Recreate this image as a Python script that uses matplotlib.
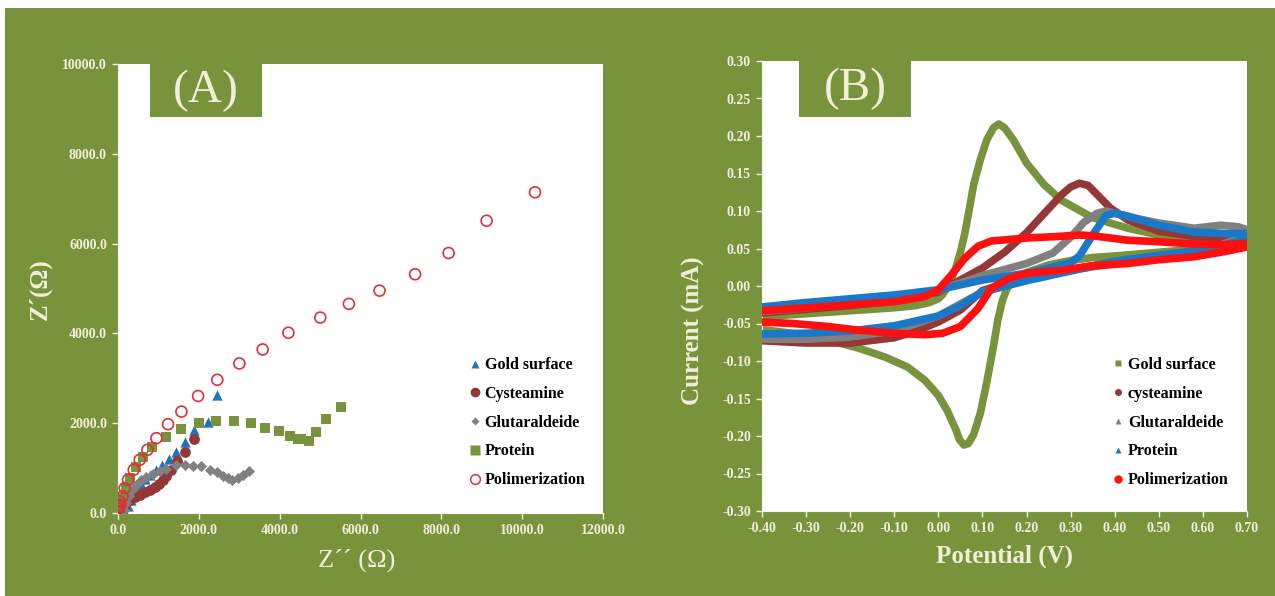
import matplotlib
matplotlib.use("Agg")
import matplotlib.pyplot as plt
from matplotlib.patches import Rectangle
from matplotlib.lines import Line2D
from matplotlib.ticker import FormatStrFormatter, MultipleLocator

# ---- (A) Nyquist data: Z'' (x) vs Z' (y), ohm ----
gold_zr = [2450, 2228, 1874, 1651, 1445, 1263, 1090, 933, 785, 661, 579, 495, 413, 332, 248, 166]
gold_zi = [2629, 2036, 1851, 1591, 1369, 1200, 1073, 962, 851, 755, 651, 555, 444, 296, 148, 5]

cyst_zr = [1881, 1651, 1470, 1321, 1197, 1114, 1015, 908, 785, 661, 537, 413, 306, 207, 141, 83]
cyst_zi = [1644, 1369, 1147, 962, 829, 740, 651, 577, 518, 458, 407, 355, 296, 222, 111, 29]

glut_zr = [3234, 3094, 2970, 2830, 2723, 2599, 2450, 2269, 2063, 1856, 1650, 1444,
           1197, 1032, 866, 703, 579, 455, 356, 272, 207, 141]
glut_zi = [926, 852, 778, 741, 778, 830, 904, 963, 1037, 1052, 1074, 1074,
           977, 925, 873, 800, 725, 629, 518, 384, 222, 58]

prot_zr = [5528, 5156, 4892, 4727, 4538, 4455, 4249, 3977, 3630, 3300, 2871, 2434, 1997,
           1552, 1181, 851, 619, 438, 306, 207, 124, 67]
prot_zi = [2356, 2090, 1793, 1593, 1645, 1645, 1719, 1830, 1904, 2000, 2038, 2053, 2000,
           1866, 1688, 1480, 1258, 1022, 777, 555, 333, 148]

poly_zr = [10318, 9120, 8180, 7351, 6471, 5713, 5005, 4216, 3579, 3003, 2457, 1982, 1569,
           1238, 950, 727, 537, 389, 248, 166, 109, 59, 25, 12, 5, 40, 20]
poly_zi = [7143, 6509, 5790, 5317, 4953, 4658, 4353, 4015, 3643, 3330, 2967, 2606, 2258,
           1977, 1666, 1407, 1184, 962, 740, 555, 369, 184, 36, 90, 15, 260, 150]

# ---- (B) cyclic voltammograms: potential (V) vs current (mA) ----
gold_up_v = [-0.40, -0.30, -0.20, -0.10, -0.05, -0.02, 0.00, 0.01, 0.02, 0.03, 0.04, 0.05, 0.06,
             0.07, 0.08, 0.095, 0.11, 0.125, 0.137, 0.15, 0.17, 0.20, 0.24, 0.28, 0.35, 0.43,
             0.50, 0.58, 0.65, 0.70]
gold_up_i = [-0.041, -0.037, -0.033, -0.029, -0.026, -0.022, -0.017, -0.011, -0.002, 0.010,
             0.025, 0.045, 0.070, 0.102, 0.135, 0.168, 0.195, 0.211, 0.216, 0.211, 0.195,
             0.164, 0.135, 0.114, 0.091, 0.077, 0.068, 0.062, 0.059, 0.060]
gold_dn_v = [0.70, 0.60, 0.50, 0.40, 0.35, 0.30, 0.25, 0.20, 0.17, 0.155, 0.145, 0.135, 0.125,
             0.11, 0.095, 0.08, 0.068, 0.058, 0.048, 0.04, 0.02, 0.00, -0.03, -0.07, -0.12,
             -0.18, -0.25, -0.32, -0.40]
gold_dn_i = [0.058, 0.050, 0.045, 0.040, 0.038, 0.034, 0.028, 0.018, 0.008, -0.004, -0.020,
             -0.045, -0.080, -0.128, -0.170, -0.198, -0.210, -0.212, -0.205, -0.192, -0.166,
             -0.146, -0.126, -0.108, -0.095, -0.083, -0.072, -0.064, -0.058]

cyst_up_v = [-0.40, -0.30, -0.20, -0.10, 0.00, 0.05, 0.10, 0.15, 0.20, 0.25, 0.28, 0.30, 0.32,
             0.34, 0.36, 0.39, 0.43, 0.50, 0.58, 0.65, 0.70]
cyst_up_i = [-0.036, -0.031, -0.026, -0.020, -0.008, 0.008, 0.024, 0.045, 0.071, 0.103, 0.122,
             0.132, 0.137, 0.134, 0.122, 0.104, 0.088, 0.073, 0.066, 0.063, 0.065]
cyst_dn_v = [0.70, 0.60, 0.50, 0.40, 0.30, 0.20, 0.10, 0.05, 0.00, -0.05, -0.10, -0.20, -0.30, -0.40]
cyst_dn_i = [0.062, 0.048, 0.040, 0.032, 0.022, 0.012, -0.006, -0.032, -0.048, -0.060, -0.069,
             -0.076, -0.076, -0.073]

glut_up_v = [-0.40, -0.30, -0.20, -0.10, 0.00, 0.10, 0.20, 0.26, 0.30, 0.33, 0.36, 0.38, 0.40,
             0.45, 0.50, 0.58, 0.64, 0.68, 0.70]
glut_up_i = [-0.034, -0.029, -0.024, -0.018, -0.006, 0.014, 0.030, 0.044, 0.065, 0.085, 0.097,
             0.100, 0.097, 0.090, 0.084, 0.077, 0.081, 0.079, 0.075]
glut_dn_v = [0.70, 0.60, 0.50, 0.40, 0.30, 0.20, 0.10, 0.05, 0.00, -0.10, -0.20, -0.30, -0.40]
glut_dn_i = [0.068, 0.046, 0.038, 0.030, 0.021, 0.009, -0.008, -0.024, -0.040, -0.060, -0.068,
             -0.071, -0.071]

prot_up_v = [-0.40, -0.30, -0.20, -0.10, 0.00, 0.10, 0.20, 0.30, 0.32, 0.35, 0.38, 0.40, 0.43,
             0.50, 0.58, 0.65, 0.70]
prot_up_i = [-0.028, -0.022, -0.017, -0.012, -0.005, 0.008, 0.017, 0.031, 0.040, 0.068, 0.094,
             0.097, 0.093, 0.081, 0.072, 0.070, 0.070]
prot_dn_v = [0.70, 0.60, 0.50, 0.40, 0.30, 0.20, 0.10, 0.05, 0.00, -0.10, -0.20, -0.30, -0.40]
prot_dn_i = [0.062, 0.048, 0.041, 0.033, 0.020, 0.007, -0.008, -0.026, -0.040, -0.053, -0.060,
             -0.063, -0.064]

poly_up_v = [-0.40, -0.30, -0.20, -0.10, -0.03, 0.00, 0.03, 0.06, 0.09, 0.12, 0.20, 0.27, 0.32,
             0.35, 0.43, 0.50, 0.58, 0.65, 0.70]
poly_up_i = [-0.033, -0.029, -0.025, -0.021, -0.014, -0.005, 0.015, 0.037, 0.053, 0.060, 0.064,
             0.066, 0.068, 0.067, 0.061, 0.059, 0.056, 0.055, 0.057]
poly_dn_v = [0.70, 0.65, 0.58, 0.50, 0.43, 0.35, 0.28, 0.20, 0.16, 0.12, 0.09, 0.05, 0.01, -0.03,
             -0.10, -0.18, -0.25, -0.33, -0.40]
poly_dn_i = [0.052, 0.046, 0.039, 0.035, 0.030, 0.027, 0.021, 0.017, 0.010, -0.003, -0.030,
             -0.054, -0.063, -0.065, -0.063, -0.059, -0.054, -0.050, -0.048]

olive = "#77933c"
cream = "#f0efd8"
c_gold_a = "#1f72c0"
c_cyst = "#953735"
c_glut = "#808080"
c_prot = "#77933c"
c_poly = "#e0303a"
c_blue_b = "#1a78c8"
c_red_b = "#ff1010"

plt.rcParams["font.family"] = ["Liberation Serif", "DejaVu Serif"]

fig = plt.figure(figsize=(12.75, 5.96), dpi=100)
fig.patches.append(Rectangle((5 / 1275, 0), 1, 588 / 596, transform=fig.transFigure,
                             facecolor=olive, edgecolor="none", zorder=-10))


def style_axes(ax):
    ax.set_facecolor("white")
    for side in ("top", "right"):
        ax.spines[side].set_visible(False)
    for side in ("left", "bottom"):
        ax.spines[side].set_color("#f4f4f4")
    ax.tick_params(direction="out", length=4, width=1, color=cream, labelcolor=cream,
                   labelsize=10, pad=4)
    for lab in ax.get_xticklabels() + ax.get_yticklabels():
        lab.set_fontweight("bold")


def label_box(ax, x0, x1, h, text):
    ax.add_patch(Rectangle((x0, 1 - h), x1 - x0, h + 0.01, transform=ax.transAxes,
                           facecolor=olive, edgecolor="none", zorder=5, clip_on=False))
    ax.text((x0 + x1) / 2, 1 - h / 2, text, transform=ax.transAxes, ha="center", va="center",
            color=cream, fontsize=34, zorder=6)


# ---------------- (A) ----------------
axA = fig.add_axes([118 / 1275, 83 / 596, 485 / 1275, 449 / 596])
axA.scatter(gold_zr, gold_zi, marker="^", s=55, color=c_gold_a, lw=0, zorder=3)
axA.scatter(cyst_zr, cyst_zi, marker="o", s=60, color=c_cyst, lw=0, zorder=3)
axA.scatter(glut_zr, glut_zi, marker="D", s=32, color=c_glut, lw=0, zorder=3)
axA.scatter(prot_zr, prot_zi, marker="s", s=55, color=c_prot, lw=0, zorder=3)
axA.scatter(poly_zr, poly_zi, marker="o", s=62, facecolor="none", edgecolor=c_poly, lw=1.2,
            zorder=4)
axA.set_xlim(0, 12000)
axA.set_ylim(0, 10000)
axA.xaxis.set_major_locator(MultipleLocator(2000))
axA.yaxis.set_major_locator(MultipleLocator(2000))
axA.xaxis.set_major_formatter(FormatStrFormatter("%.1f"))
axA.yaxis.set_major_formatter(FormatStrFormatter("%.1f"))
style_axes(axA)
label_box(axA, 0.066, 0.297, 0.118, "(A)")

hA = [
    Line2D([], [], ls="none", marker="^", ms=6, color=c_gold_a, mec="none"),
    Line2D([], [], ls="none", marker="o", ms=7, color=c_cyst, mec="none"),
    Line2D([], [], ls="none", marker="D", ms=4.5, color=c_glut, mec="none"),
    Line2D([], [], ls="none", marker="s", ms=6.5, color=c_prot, mec="none"),
    Line2D([], [], ls="none", marker="o", ms=7, mfc="none", mec=c_poly, mew=1.1),
]
labA = ["Gold surface", "Cysteamine", "Glutaraldeide", "Protein", "Polimerization"]
axA.legend(hA, labA, loc="upper left", bbox_to_anchor=(0.71, 0.365), frameon=False,
           handlelength=0.6, handletextpad=0.3, labelspacing=0.8, borderpad=0,
           prop={"family": "Liberation Serif", "weight": "bold", "size": 11.5})

fig.text(40 / 1275, 1 - 289 / 596, "Z\u00b4(\u03a9)", rotation=90, ha="center", va="center",
         color=cream, fontsize=18, fontweight="bold")
fig.text(357 / 1275, 1 - 560 / 596, "Z\u00b4\u00b4 (\u03a9)", ha="center", va="center",
         color=cream, fontsize=19)

# ---------------- (B) ----------------
axB = fig.add_axes([762 / 1275, 85 / 596, 485 / 1275, 450 / 596])
cv = [
    (gold_up_v, gold_up_i, gold_dn_v, gold_dn_i, olive),
    (cyst_up_v, cyst_up_i, cyst_dn_v, cyst_dn_i, c_cyst),
    (glut_up_v, glut_up_i, glut_dn_v, glut_dn_i, c_glut),
    (prot_up_v, prot_up_i, prot_dn_v, prot_dn_i, c_blue_b),
    (poly_up_v, poly_up_i, poly_dn_v, poly_dn_i, c_red_b),
]
for k, (uv, ui, dv, di, col) in enumerate(cv):
    axB.plot(uv + dv, ui + di, color=col, lw=5.5, solid_joinstyle="round",
             solid_capstyle="round", zorder=2 + k)
axB.set_xlim(-0.40, 0.70)
axB.set_ylim(-0.30, 0.30)
axB.xaxis.set_major_locator(MultipleLocator(0.10))
axB.yaxis.set_major_locator(MultipleLocator(0.05))
axB.xaxis.set_major_formatter(FormatStrFormatter("%.2f"))
axB.yaxis.set_major_formatter(FormatStrFormatter("%.2f"))
style_axes(axB)
label_box(axB, 0.076, 0.307, 0.124, "(B)")

hB = [
    Line2D([], [], ls="none", marker="s", ms=5, color=olive, mec="none"),
    Line2D([], [], ls="none", marker="o", ms=5, color=c_cyst, mec="none"),
    Line2D([], [], ls="none", marker="^", ms=4, color=c_glut, mec="none"),
    Line2D([], [], ls="none", marker="^", ms=4, color=c_blue_b, mec="none"),
    Line2D([], [], ls="none", marker="o", ms=6, color=c_red_b, mec="none"),
]
labB = ["Gold surface", "cysteamine", "Glutaraldeide", "Protein", "Polimerization"]
axB.legend(hB, labB, loc="upper left", bbox_to_anchor=(0.71, 0.36), frameon=False,
           handlelength=0.5, handletextpad=0.35, labelspacing=0.8, borderpad=0,
           prop={"family": "Liberation Serif", "weight": "bold", "size": 11.5})

fig.text(693 / 1275, 1 - 331 / 596, "Current (mA)", rotation=90, ha="center", va="center",
         color=cream, fontsize=18, fontweight="bold")
fig.text(1004 / 1275, 1 - 556 / 596, "Potential (V)", ha="center", va="center",
         color=cream, fontsize=18, fontweight="bold")

fig.savefig("out.png", dpi=100, facecolor="white")
